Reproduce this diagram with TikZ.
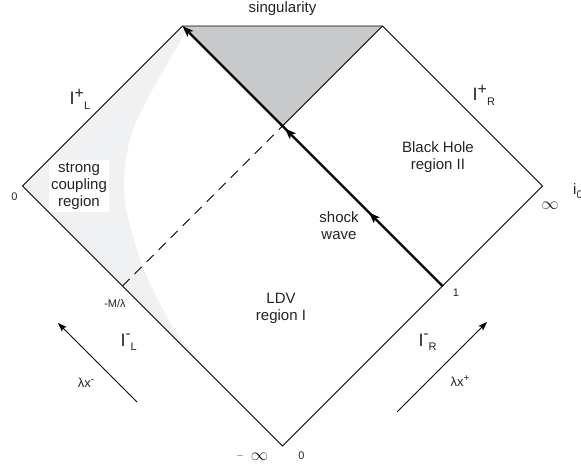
\documentclass[tikz,border=0pt]{standalone}
\usepackage{fontspec}
\setmainfont{Liberation Sans}
\usetikzlibrary{arrows.meta,decorations.markings}
\definecolor{singgray}{RGB}{200,201,203}
\definecolor{stronggray}{RGB}{240,241,243}
\definecolor{txt}{RGB}{35,35,35}
\newcommand\Ilab[4]{{\fontsize{18}{18}\selectfont I}\raisebox{#3}{\fontsize{#4}{#4}\selectfont #1}\raisebox{-4.5pt}{\fontsize{11}{11}\selectfont #2}}
\begin{document}
\begin{tikzpicture}[x=1pt,y=-1pt,
  txtnode/.style={text=txt, inner sep=0pt, font=\fontsize{15}{17}\selectfont, align=center},
  small/.style={text=txt, inner sep=0pt, font=\fontsize{11}{13}\selectfont},
  ilab/.style={text=txt, inner sep=0pt, anchor=base west},
  frame/.style={line width=0.8pt},
  tipbig/.tip={Stealth[length=11pt,width=8pt,inset=2.5pt]},
  shock/.style={line width=2.2pt, -tipbig, postaction={decorate},
    decoration={markings,
      mark=at position 0.283 with {\arrow{tipbig}},
      mark=at position 0.606 with {\arrow{tipbig}}}},
  lamarrow/.style={line width=0.8pt, -{Stealth[length=9pt,width=6.5pt,inset=2pt]}}]
\useasboundingbox (0,0) rectangle (581,465);
% vertices
\coordinate (B) at (282.5,446);
\coordinate (L) at (22.5,186);
\coordinate (R) at (542.5,186);
\coordinate (TL) at (182.5,26);
\coordinate (TR) at (382.5,26);
\coordinate (H) at (282.5,126);
\coordinate (S) at (442.5,286);
\coordinate (M) at (122.5,286);
\coordinate (C) at (207,370.5);
% strong coupling shading
\fill[stronggray] (TL) -- (L) -- (C) -- plot[smooth, tension=0.6] coordinates
  {(207,370.5) (177,333) (158,300) (143,267) (132,233) (125,200) (125,167) (132,133) (147,100) (166,66) (180,42) (187,29)} -- cycle;
% singularity region
\fill[singgray] (TL) -- (TR) -- (H) -- cycle;
% frame
\draw[frame] (B) -- (L) -- (TL) -- (TR) -- (R) -- cycle;
\draw[frame] (H) -- (TR);
\draw[frame, dash pattern=on 10pt off 7pt] (M) -- (H);
\draw[shock] (S) -- (TL);
% lambda arrows
\coordinate (am1) at (137,402);
\coordinate (am2) at (58,323);
\coordinate (ap1) at (397,412);
\coordinate (ap2) at (487,322);
\draw[lamarrow] (am1) -- (am2);
\draw[lamarrow] (ap1) -- (ap2);
% texts
\node[txtnode] (sing) at (282.5,9) {singularity};
\node[txtnode] (bh) at (438,157) {Black Hole\\region II};
\node[txtnode] (ldv) at (281,308) {LDV\\region I};
\node[txtnode] (sw) at (339,226) {shock\\wave};
\node[txtnode, fill=white, inner sep=2.5pt] (strong) at (79,186) {strong\\coupling\\region};
\node[ilab] (IpL) at (69.5,105) {\Ilab{+}{L}{6.5pt}{16}};
\node[ilab] (IpR) at (472.5,101) {\Ilab{+}{R}{6.5pt}{16}};
\node[ilab] (ImL) at (120.5,346) {\Ilab{-}{L}{8pt}{15}};
\node[ilab] (ImR) at (418.5,346) {\Ilab{-}{R}{8pt}{15}};
\node[small] (zl) at (14.5,197) {0};
\node[small] (mlam) at (115,304) {-M/λ};
\node[small] (one) at (456,293) {1};
\node[small] (zb) at (301.5,456) {0};
\node[text=txt, inner sep=0pt] (minus) at (240,456) {$-$};
\node[text=txt, inner sep=0pt] (minf) at (259.5,456.5) {\fontsize{18}{18}\selectfont$\infty$};
\node[text=txt, inner sep=0pt] (pinf) at (550,206) {\fontsize{18}{18}\selectfont$\infty$};
\node[ilab] (izero) at (573,195) {\fontsize{15}{15}\selectfont i\raisebox{-4pt}{\fontsize{11}{11}\selectfont 0}};
\node[text=txt, inner sep=0pt, font=\fontsize{13}{13}\selectfont] (lxm) at (86,383) {λx\raisebox{5pt}{\fontsize{10}{10}\selectfont -}};
\node[text=txt, inner sep=0pt, font=\fontsize{13}{13}\selectfont] (lxp) at (460,381) {λx\raisebox{5pt}{\fontsize{10}{10}\selectfont +}};
\end{tikzpicture}
\end{document}
